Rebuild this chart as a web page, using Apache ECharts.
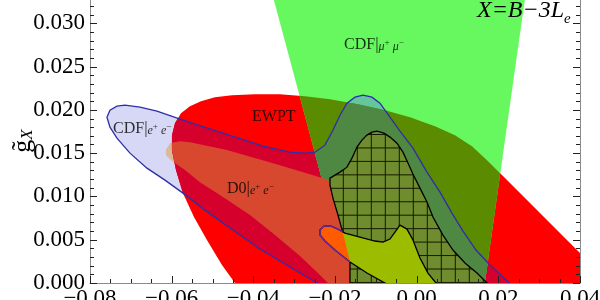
<!DOCTYPE html>
<html><head><meta charset="utf-8">
<script src="https://cdn.jsdelivr.net/npm/echarts@6/dist/echarts.min.js"></script>
<style>html,body{margin:0;padding:0;background:#fff}#c{width:600px;height:300px}</style>
</head><body><div id="c"></div>
<script>
// ---------- data ----------
const xTickValues = [-0.08, -0.06, -0.04, -0.02, 0.00, 0.02, 0.04];
const yTickValues = [0.000, 0.005, 0.010, 0.015, 0.020, 0.025, 0.030, 0.035];

// EWPT allowed ellipse
const ewpt = [[-0.03960,-0.00254],[-0.04450,0],[-0.04768,0.00208],[-0.05136,0.00496],[-0.05454,0.00762],[-0.05723,0.01038],[-0.05895,0.01304],[-0.05993,0.01535],[-0.05993,0.01708],[-0.05919,0.01846],[-0.05772,0.01961],[-0.05552,0.02042],[-0.05282,0.02100],[-0.04940,0.02146],[-0.04523,0.02169],[-0.03960,0.02181],[-0.03348,0.02181],[-0.02736,0.02158],[-0.02123,0.02123],[-0.01438,0.02065],[-0.00776,0.01996],[-0.00164,0.01915],[0.00448,0.01811],[0.00938,0.01708],[0.01354,0.01581],[0.01722,0.01419],[0.02114,0.01235],[0.02775,0.00923],[0.03509,0.00577],[0.04122,0.00288],[0.04734,0],[0.04734,-0.00312]];
// CDF mu+mu- cone
const cdfMuMu = [[-0.03691,0.03611],[0.02750,0.03611],[0.01575,-0.00312],[-0.01462,-0.00312]];
// CDF e+e- contour
const cdfEE = [[-0.07585,0.01915],[-0.07511,0.01996],[-0.07340,0.02042],[-0.07144,0.02054],[-0.06776,0.02031],[-0.06360,0.01985],[-0.05723,0.01881],[-0.04744,0.01731],[-0.03764,0.01581],[-0.03103,0.01511],[-0.02736,0.01500],[-0.02491,0.01511],[-0.02246,0.01592],[-0.02050,0.01765],[-0.01878,0.01938],[-0.01707,0.02077],[-0.01511,0.02146],[-0.01315,0.02169],[-0.01095,0.02146],[-0.00899,0.02077],[-0.00654,0.01915],[-0.00409,0.01754],[-0.00091,0.01558],[0.00252,0.01281],[0.00571,0.01050],[0.00864,0.00808],[0.01134,0.00600],[0.01452,0.00381],[0.01795,0.00208],[0.02138,0.00058],[0.02407,-0.00058],[0.02897,-0.00254],[-0.01511,-0.00254],[-0.01878,-0.00150],[-0.02442,0],[-0.03103,0.00185],[-0.03838,0.00392],[-0.04572,0.00635],[-0.05185,0.00842],[-0.05723,0.01038],[-0.06164,0.01188],[-0.06605,0.01327],[-0.07021,0.01500],[-0.07340,0.01673],[-0.07511,0.01800]];
// D0 e+e- region
const d0EE = [[-0.06140,0.01535],[-0.06042,0.01615],[-0.05797,0.01638],[-0.05552,0.01627],[-0.04646,0.01535],[-0.03348,0.01361],[-0.02295,0.01211],[-0.02074,0.01165],[-0.01976,0.00981],[-0.01854,0.00785],[-0.01731,0.00577],[-0.01658,0.00438],[-0.01560,0.00242],[-0.01536,0],[-0.01511,-0.00138],[-0.01927,-0.00138],[-0.02172,0],[-0.02368,0.00092],[-0.02858,0.00312],[-0.03470,0.00554],[-0.04082,0.00785],[-0.04744,0.00992],[-0.05307,0.01165],[-0.05674,0.01304],[-0.05993,0.01408],[-0.06140,0.01477]];
// combined (meshed) region
const combined = [[-0.02123,0.01211],[-0.01878,0.01281],[-0.01707,0.01338],[-0.01585,0.01442],[-0.01462,0.01569],[-0.01340,0.01650],[-0.01217,0.01708],[-0.01095,0.01742],[-0.00972,0.01754],[-0.00801,0.01731],[-0.00654,0.01685],[-0.00482,0.01615],[-0.00336,0.01511],[-0.00213,0.01385],[-0.00091,0.01258],[0.00081,0.01096],[0.00252,0.00935],[0.00399,0.00762],[0.00644,0.00554],[0.00889,0.00381],[0.01183,0.00231],[0.01477,0.00115],[0.01722,0],[0.01918,-0.00104],[-0.01633,-0.00104],[-0.01633,0],[-0.01633,0.00242],[-0.01731,0.00438],[-0.01805,0.00577],[-0.01927,0.00785],[-0.02050,0.00981],[-0.02123,0.01131]];
// small region (orange / yellow-green)
const smallRegion = [[-0.02368,0.00612],[-0.02270,0.00658],[-0.02099,0.00658],[-0.01927,0.00623],[-0.01756,0.00577],[-0.01389,0.00531],[-0.01021,0.00485],[-0.00825,0.00473],[-0.00654,0.00508],[-0.00531,0.00588],[-0.00409,0.00669],[-0.00238,0.00623],[-0.00091,0.00496],[0.00081,0.00288],[0.00277,0.00115],[0.00473,0],[0.00620,-0.00104],[-0.00409,-0.00104],[-0.00776,0],[-0.01217,0.00115],[-0.01633,0.00242],[-0.02001,0.00381],[-0.02246,0.00485],[-0.02368,0.00554]];

// ---------- geometry helpers ----------
function area(p){let s=0;for(let i=0;i<p.length;i++){const a=p[i],b=p[(i+1)%p.length];s+=a[0]*b[1]-b[0]*a[1];}return s/2;}
function crs(A,B,P){return (B[0]-A[0])*(P[1]-A[1])-(B[1]-A[1])*(P[0]-A[0]);}
function clip(subject, cp){
  const sg = area(cp) > 0 ? 1 : -1;
  let out = subject.slice();
  for (let i=0;i<cp.length;i++){
    const A=cp[i], B=cp[(i+1)%cp.length];
    const input=out; out=[];
    if(!input.length) break;
    const ins = p => sg*crs(A,B,p) >= 0;
    const inter = (P,Q) => {const a1=crs(A,B,P), a2=crs(A,B,Q); const t=a1/(a1-a2); return [P[0]+t*(Q[0]-P[0]), P[1]+t*(Q[1]-P[1])];};
    for (let j=0;j<input.length;j++){
      const cur=input[j], prev=input[(j+input.length-1)%input.length];
      if (ins(cur)) { if(!ins(prev)) out.push(inter(prev,cur)); out.push(cur); }
      else if (ins(prev)) out.push(inter(prev,cur));
    }
  }
  return out;
}
function insideConvex(cp,p){const sg=area(cp)>0?1:-1;for(let i=0;i<cp.length;i++){if(sg*crs(cp[i],cp[(i+1)%cp.length],p)<0)return false;}return true;}
function bisect(cp,P,Q){let a=P,b=Q;for(let k=0;k<30;k++){const m=[(a[0]+b[0])/2,(a[1]+b[1])/2];if(insideConvex(cp,m))a=m;else b=m;}return a;}
function runsInside(pts,cp){
  const runs=[];let cur=null;const n=pts.length;
  for(let i=0;i<n;i++){const P=pts[i],Q=pts[(i+1)%n];const a=insideConvex(cp,P),b=insideConvex(cp,Q);
    if(a&&b){if(!cur)cur=[P];cur.push(Q);}
    else if(a&&!b){if(!cur)cur=[P];cur.push(bisect(cp,P,Q));runs.push(cur);cur=null;}
    else if(!a&&b){cur=[bisect(cp,Q,P),Q];}
  }
  if(cur)runs.push(cur);return runs;
}

// region left of the meshed region's left boundary (convex), built from its points
const leftChain = combined.slice(24, 30);
const leftRegion = leftChain.concat([[-0.09, leftChain[leftChain.length-1][1]], [-0.09, leftChain[0][1]]]);

// ---------- styles ----------
const FONT = '"Liberation Serif", "DejaVu Serif", serif';
const MESH = {x0: 343.3, dx: 14, y0: 188.3, dy: 13.45};
const TICK = {major:7, minor:4, xMinor:4, yMinor:5, color:'#222'};
let zc = 1;
function base(pts){ return {type:'custom', coordinateSystem:'cartesian2d', clip:true, silent:true, z:zc++, animation:false, data:[[pts[0][0], pts[0][1]]]}; }
function fillSeries(pts, fill){
  return Object.assign(base(pts), {renderItem:(params, api)=>({type:'polygon', shape:{points: pts.map(p=>api.coord(p))}, style:{fill:fill, stroke:'none'}})});
}
function strokeSeries(pts, stroke, lw, closed){
  return Object.assign(base(pts), {renderItem:(params, api)=>({type: closed?'polygon':'polyline', shape:{points: pts.map(p=>api.coord(p))}, style:{fill:'none', stroke:stroke, lineWidth:lw}})});
}
function meshSeries(pts){
  return Object.assign(base(pts), {
    renderItem:(params, api)=>{
      const px = pts.map(p=>api.coord(p));
      const xs=px.map(p=>p[0]), ys=px.map(p=>p[1]);
      const minX=Math.min(...xs), maxX=Math.max(...xs), minY=Math.min(...ys), maxY=Math.max(...ys);
      const ch=[];
      const n=px.length;
      let X = MESH.x0 - Math.ceil((MESH.x0-minX)/MESH.dx)*MESH.dx;
      for(; X<=maxX; X+=MESH.dx){
        const hits=[];
        for(let i=0;i<n;i++){const a=px[i],b=px[(i+1)%n];if((a[0]<=X)!==(b[0]<=X)){const t=(X-a[0])/(b[0]-a[0]);hits.push(a[1]+t*(b[1]-a[1]));}}
        hits.sort((u,v)=>u-v);
        for(let k=0;k+1<hits.length;k+=2) ch.push({type:'line',shape:{x1:X,y1:hits[k],x2:X,y2:hits[k+1]},style:{stroke:'#141a00',lineWidth:1}});
      }
      let Y = MESH.y0 - Math.ceil((MESH.y0-minY)/MESH.dy)*MESH.dy;
      for(; Y<=maxY; Y+=MESH.dy){
        const hits=[];
        for(let i=0;i<n;i++){const a=px[i],b=px[(i+1)%n];if((a[1]<=Y)!==(b[1]<=Y)){const t=(Y-a[1])/(b[1]-a[1]);hits.push(a[0]+t*(b[0]-a[0]));}}
        hits.sort((u,v)=>u-v);
        for(let k=0;k+1<hits.length;k+=2) ch.push({type:'line',shape:{x1:hits[k],y1:Y,x2:hits[k+1],y2:Y},style:{stroke:'#141a00',lineWidth:1}});
      }
      return {type:'group', children: ch};
    }});
}
// inward frame ticks: one data item per tick, positioned through the axis scales
const xMinV = xTickValues[0], xMaxV = xTickValues[xTickValues.length-1], yMinV = yTickValues[0];
const tickItems = [];
xTickValues.forEach((v,i)=>{
  tickItems.push([v, yMinV, 0, TICK.major]);
  if (i+1 < xTickValues.length) for (let k=1;k<TICK.xMinor;k++) tickItems.push([v+(xTickValues[i+1]-v)*k/TICK.xMinor, yMinV, 0, TICK.minor]);
});
yTickValues.forEach((v,i)=>{
  tickItems.push([xMinV, v, 1, TICK.major]); tickItems.push([xMaxV, v, 2, TICK.major]);
  if (i+1 < yTickValues.length) for (let k=1;k<TICK.yMinor;k++){ const w=v+(yTickValues[i+1]-v)*k/TICK.yMinor; tickItems.push([xMinV, w, 1, TICK.minor]); tickItems.push([xMaxV, w, 2, TICK.minor]); }
});
const tickSeries = {type:'custom', coordinateSystem:'cartesian2d', clip:false, silent:true, z:60, animation:false,
  encode:{x:0, y:1}, data: tickItems,
  renderItem:(params, api)=>{
    const p = api.coord([api.value(0), api.value(1)]);
    const kind = api.value(2), len = api.value(3);
    let shape;
    if (kind === 0) { const X = Math.round(p[0])+0.5; shape = {x1:X, y1:p[1], x2:X, y2:p[1]-len}; }
    else if (kind === 1) { const Y = Math.round(p[1])+0.5; shape = {x1:p[0], y1:Y, x2:p[0]+len, y2:Y}; }
    else { const Y = Math.round(p[1])+0.5; shape = {x1:p[0], y1:Y, x2:p[0]-len, y2:Y}; }
    return {type:'line', shape:shape, style:{stroke:TICK.color, lineWidth:1}};
  }};

const series = [
  fillSeries(cdfEE, '#d7d7f6'),
  fillSeries(d0EE, '#dcb89c'),
  fillSeries(ewpt, '#ff0000'),
  fillSeries(clip(cdfEE, ewpt), '#d6002d'),
  fillSeries(cdfMuMu, '#66f85e'),
  fillSeries(clip(cdfEE, cdfMuMu), '#63c69c'),
  fillSeries(clip(ewpt, cdfMuMu), '#5b8b00'),
  fillSeries(clip(clip(cdfEE, ewpt), cdfMuMu), '#4f8843'),
  fillSeries(clip(d0EE, ewpt), '#d8482f'),
  fillSeries(combined, '#6f8c2e'),
  meshSeries(combined),
  strokeSeries(combined, '#000', 1.3, true),
  fillSeries(smallRegion, '#9cbc00'),
  fillSeries(clip(smallRegion, leftRegion), '#ff5b00'),
  strokeSeries(smallRegion, '#000', 1.3, true)
];
runsInside(smallRegion, leftRegion).forEach(r => series.push(strokeSeries(r, '#6a2ab0', 1.3, false)));
series.push(strokeSeries(cdfEE, '#2e2ea8', 1.3, true));
series.push(tickSeries);

const fmt = v => { const s = Math.abs(v) < 1e-12 ? '0.00' : v.toFixed(2); return s.replace('-', '\u2212'); };
function axisParts(){
  return {
    axisLine:{show:true, onZero:false, lineStyle:{color:'#8a8a8a', width:1}},
    axisTick:{show:false}, minorTick:{show:false},
    splitLine:{show:false}, minorSplitLine:{show:false}, z:50
  };
}

const txt = (x, y, text, rich) => ({type:'text', x:x, y:y, z:100, silent:true,
  style:{text:text, rich:rich, align:'left', verticalAlign:'middle', fill:'rgba(0,0,0,0.8)', fontFamily:FONT, fontSize:16}});
const labelRich = {
  n:{fontFamily:FONT, fontSize:16, fill:'rgba(0,0,0,0.8)', verticalAlign:'bottom', lineHeight:18},
  b:{fontFamily:FONT, fontSize:17, fill:'rgba(0,0,0,0.8)', verticalAlign:'bottom', lineHeight:18},
  i:{fontFamily:FONT, fontSize:12, fontStyle:'italic', fill:'rgba(0,0,0,0.8)', verticalAlign:'bottom', lineHeight:18},
  s:{fontFamily:FONT, fontSize:9, fill:'rgba(0,0,0,0.8)', verticalAlign:'top', lineHeight:18, padding:[3,0,0,0]}
};
const titleRich = {
  g:{fontFamily:FONT, fontSize:26, fill:'#000', verticalAlign:'bottom', lineHeight:28},
  x:{fontFamily:FONT, fontSize:17, fontStyle:'italic', fill:'#000', verticalAlign:'bottom', lineHeight:28}
};

const option = {
  animation:false,
  backgroundColor:'#ffffff',
  grid:{left:90, right:20, top:-20, bottom:17, containLabel:false, outerBoundsMode:'none'},
  xAxis:Object.assign({type:'value', min:xMinV, max:xMaxV, interval:0.02,
    axisLabel:{formatter:fmt, fontFamily:FONT, fontSize:23, color:'#000', margin:4}}, axisParts()),
  yAxis:[
    Object.assign({type:'value', min:yMinV, max:yTickValues[yTickValues.length-1], interval:0.005, position:'left',
      axisLabel:{formatter:v=>v.toFixed(3), fontFamily:FONT, fontSize:23, color:'#000', margin:5}}, axisParts()),
    Object.assign({type:'value', min:yMinV, max:yTickValues[yTickValues.length-1], interval:0.005, position:'right',
      axisLabel:{show:false}}, axisParts())
  ],
  series: series,
  graphic: [
    txt(113, 128, '{n|CDF}{b||}{i|e}{s|+}{i| e}{s|\u2212}', labelRich),
    txt(252, 116, '{n|EWPT}', labelRich),
    txt(344, 44, '{n|CDF}{b||}{i|\u03bc}{s|+}{i| \u03bc}{s|\u2212}', labelRich),
    txt(227, 188, '{n|D0}{b||}{i|e}{s|+}{i| e}{s|\u2212}', labelRich),
    txt(477, 10, '{a|X=B\u22123L}{e|e}', {
      a:{fontFamily:FONT, fontSize:24, fontStyle:'italic', fill:'#000', verticalAlign:'bottom', lineHeight:26},
      e:{fontFamily:FONT, fontSize:15, fontStyle:'italic', fill:'#000', verticalAlign:'bottom', lineHeight:26, padding:[0,0,-4,0]}
    }),
    {type:'text', x:22, y:141, z:100, silent:true, rotation:Math.PI/2,
     style:{text:'{g|g\u0303}{x|X}', rich:titleRich, align:'center', verticalAlign:'middle', fill:'#000', fontFamily:FONT, fontSize:26}}
  ]
};
const chart = echarts.init(document.getElementById('c'), null, {renderer:'canvas', width:600, height:300});
chart.setOption(option);
</script></body></html>
